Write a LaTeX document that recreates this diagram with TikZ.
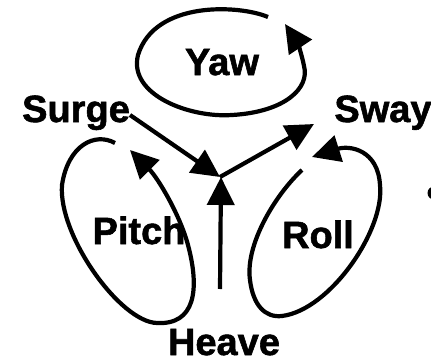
\documentclass[tikz,border=0pt]{standalone}
\usepackage{fontspec}
\setmainfont{Liberation Sans}[BoldFeatures={FakeBold=1.5}]
\usetikzlibrary{arrows.meta}
\begin{document}
\begin{tikzpicture}[x=1bp,y=-1bp,
  lbl/.style={font=\bfseries\fontsize{38bp}{40bp}\selectfont, inner sep=0pt, anchor=base},
  heavy/.style={line width=4.2bp},
  tipped/.style={heavy, -{Triangle[length=28bp,width=27bp]}},
]
\useasboundingbox (0,0) rectangle (431,364);
\clip (0,0) rectangle (431,364);
% labels
\node[lbl] (yaw)   at (222,75)  {Yaw};
\node[lbl] (surge) at (76,122)  {Surge};
\node[lbl] (sway)  at (383,122) {Sway};
\node[lbl] (pitch) at (139,244) {Pitch};
\node[lbl] (roll)  at (318,248) {Roll};
\node[lbl] (heave) at (224,355) {Heave};
% connector ends
\coordinate (c)  at (220,177);
\coordinate (s0) at (130,115);
\coordinate (w1) at (314,124);
\coordinate (h0) at (220,289);
\coordinate (h1) at (221,177);
% translational arrows
\draw[tipped] (s0) -- (c);
\draw[tipped] (c) -- (w1);
\draw[tipped] (h0) -- (h1);
% Yaw loop
\draw[tipped] (268,17) .. controls (240,5) and (155,0) .. (138,55)
  .. controls (128,95) and (190,118) .. (232,115)
  .. controls (285,112) and (310,88) .. (304,66)
  .. controls (302,55) and (297,42) .. (285,24);
% Pitch loop
\draw[tipped] (115,143) .. controls (95,132) and (68,145) .. (62,185)
  .. controls (58,235) and (120,322) .. (157,323)
  .. controls (195,325) and (200,290) .. (188,245)
  .. controls (180,215) and (158,178) .. (130,150);
% Roll loop
\draw[tipped] (302,170) .. controls (275,195) and (245,245) .. (250,280)
  .. controls (253,305) and (265,318) .. (282,316)
  .. controls (330,310) and (385,230) .. (380,185)
  .. controls (378,150) and (350,145) .. (312,157);
% partial dot at the right edge
\fill (434,193) circle (6.5);
\end{tikzpicture}
\end{document}
